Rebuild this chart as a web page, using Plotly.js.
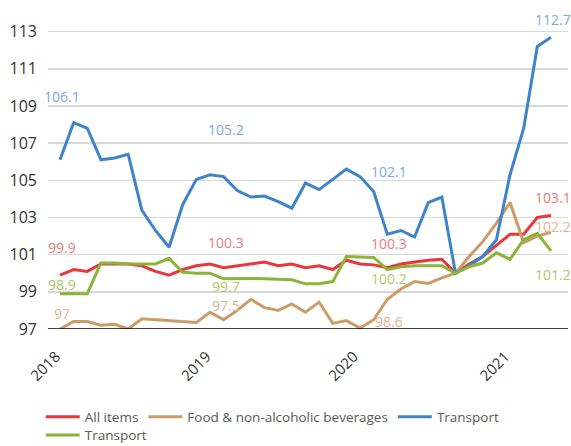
<!DOCTYPE html>
<html>
<head>
<meta charset="utf-8">
<script src="https://cdn.plot.ly/plotly-3.0.1.min.js"></script>
<style>
html,body{margin:0;padding:0;background:#fff;}
#chart{width:571px;height:446px;}
</style>
</head>
<body>
<div id="chart"></div>
<script>
// Months Jan 2018 .. Jan 2021
const months = [
 "2018-01","2018-02","2018-03","2018-04","2018-05","2018-06","2018-07","2018-08","2018-09","2018-10","2018-11","2018-12",
 "2019-01","2019-02","2019-03","2019-04","2019-05","2019-06","2019-07","2019-08","2019-09","2019-10","2019-11","2019-12",
 "2020-01","2020-02","2020-03","2020-04","2020-05","2020-06","2020-07","2020-08","2020-09","2020-10","2020-11","2020-12",
 "2021-01"
];
const allItems = [99.9,100.2,100.1,100.5,100.5,100.5,100.4,100.1,99.9,100.2,100.4,100.5,
 100.3,100.4,100.5,100.6,100.4,100.5,100.3,100.4,100.2,100.7,100.5,100.45,
 100.3,100.5,100.6,100.7,100.75,100.0,100.5,100.9,101.5,102.1,102.1,103.0,103.1];
const food = [97.0,97.4,97.4,97.2,97.25,97.0,97.55,97.5,97.45,97.4,97.35,97.9,
 97.5,98.0,98.6,98.15,98.0,98.35,97.9,98.45,97.3,97.45,97.05,97.5,
 98.6,99.15,99.55,99.45,99.75,100.0,100.9,101.7,102.7,103.8,101.65,102.0,102.2];
const transport = [106.1,108.1,107.8,106.1,106.2,106.4,103.4,102.3,101.4,103.7,105.05,105.3,
 105.2,104.45,104.1,104.15,103.85,103.5,104.85,104.5,105.05,105.6,105.2,104.4,
 102.1,102.3,101.95,103.8,104.1,100.0,100.4,100.9,101.8,105.3,107.8,112.2,112.7];
const transport2 = [98.9,98.9,98.9,100.55,100.55,100.5,100.5,100.5,100.8,100.05,100.0,100.0,
 99.7,99.72,99.72,99.7,99.68,99.65,99.43,99.43,99.55,100.9,100.87,100.85,
 100.2,100.35,100.4,100.42,100.4,100.0,100.35,100.55,101.1,100.75,101.8,102.15,101.2];
const seriesNames = ["All items","Food & non-alcoholic beverages","Transport","Transport"];
const yearTicks = ["2018","2019","2020","2021"];
const labelMonths = ["2018-01","2019-01","2020-01","2021-01"];

const lineColors = ["#e8373d","#cc9c66","#3f84c8","#8cb33a"];
const labelColors = ["#f07a7c","#dcb88f","#7aaade","#afc96b"];
const seriesData = [allItems, food, transport, transport2];
const legendIds = ["legend","legend","legend","legend2"];

const xIdx = months.map((m,i)=>i);
const traces = seriesData.map((vals,k)=>({
  x: xIdx, y: vals, type:"scatter", mode:"lines", name: seriesNames[k],
  legend: legendIds[k],
  text: months, hovertemplate:"%{text}: %{y}<extra>"+seriesNames[k]+"</extra>",
  line:{color: lineColors[k], width:3}
}));

// label vertical offsets (px) per series per label-month
const yshifts = [
  [28,25,24,18],
  [16,14,-22,6],
  [63,47,63,18],
  [9,-8,-9,-24]
];
const annotations = [];
seriesData.forEach((vals,k)=>{
  labelMonths.forEach((m,j)=>{
    const i = months.indexOf(m);
    annotations.push({
      x: i, y: vals[i], xref:"x", yref:"y",
      text: vals[i].toFixed(1).replace(/\.0$/,""),
      showarrow:false, yshift: yshifts[k][j], xshift: 2,
      font:{family:"Open Sans, sans-serif", size:14, color: labelColors[k]}
    });
  });
});

const legendFont = {family:"Open Sans, sans-serif", size:13.5, color:"#595959"};
const layout = {
  width:571, height:446,
  margin:{l:48, r:3, t:13, b:117, autoexpand:false},
  paper_bgcolor:"#fff", plot_bgcolor:"#fff",
  font:{family:"Open Sans, sans-serif", color:"#333"},
  showlegend:true,
  legend:{orientation:"h", x:-0.014, xanchor:"left", y:-0.229, yanchor:"top",
    font:legendFont, itemwidth:34, bgcolor:"rgba(0,0,0,0)"},
  legend2:{orientation:"h", x:-0.014, xanchor:"left", y:-0.287, yanchor:"top",
    font:legendFont, itemwidth:34, bgcolor:"rgba(0,0,0,0)"},
  xaxis:{
    type:"linear", range:[-0.88, 37.25],
    tickmode:"array", tickvals:[-0.3, 10.75, 21.55, 32.65], ticktext: yearTicks,
    tickangle:-45, showgrid:false, zeroline:false, showline:false,
    tickfont:{size:15, color:"#333"}, ticks:"", ticklabelstandoff:15
  },
  yaxis:{
    range:[97, 114], tickmode:"array", tickvals:[97,99,101,103,105,107,109,111,113],
    showgrid:true, gridcolor:"#d9d9d9", gridwidth:1.5, zeroline:false,
    tickfont:{size:16, color:"#333"}, ticklabelstandoff:10, ticks:""
  },
  shapes:[{type:"line", xref:"paper", yref:"y", x0:0, x1:1, y0:97, y1:97,
    line:{color:"#000", width:1.5}}],
  annotations: annotations
};
Plotly.newPlot("chart", traces, layout, {displayModeBar:false, staticPlot:true});
</script>
</body>
</html>
